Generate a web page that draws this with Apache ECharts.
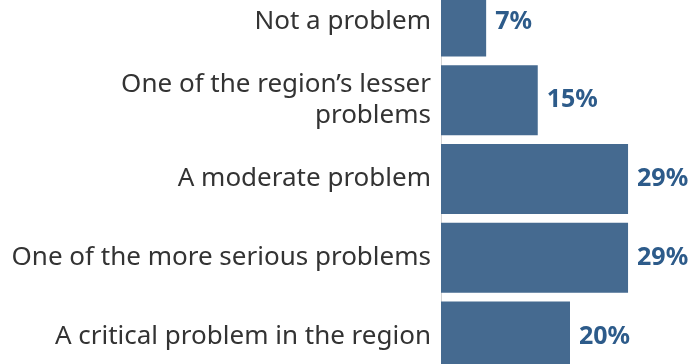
<!DOCTYPE html>
<html>
<head>
<meta charset="utf-8">
<script src="https://cdn.jsdelivr.net/npm/echarts@6/dist/echarts.min.js"></script>
<style>
  html, body { margin: 0; padding: 0; background: #ffffff; overflow: hidden; }
  /* the plot runs past the top and bottom edges of the page */
  #chart { width: 691px; height: 394px; margin-top: -18px; }
</style>
</head>
<body>
<div id="chart"></div>
<script>
// Survey answers, top to bottom
const categories = [
  'Not a problem',
  'One of the region\u2019s lesser\nproblems',
  'A moderate problem',
  'One of the more serious problems',
  'A critical problem in the region'
];
// Share of respondents (%)
const shares = [7, 15, 29, 29, 20];

const FONT = '"Noto Sans", sans-serif';
const chart = echarts.init(document.getElementById('chart'), null, { renderer: 'canvas' });

chart.setOption({
  animation: false,
  grid: { left: 441, right: 0, top: 0, bottom: 0, containLabel: false },
  xAxis: {
    type: 'value',
    min: 0,
    max: 38.76,
    show: false
  },
  yAxis: {
    type: 'category',
    data: categories,
    inverse: true,
    axisLine: { show: true, lineStyle: { color: '#d4d4d4', width: 1 } },
    axisTick: { show: false },
    splitLine: { show: false },
    axisLabel: {
      margin: 10,
      fontFamily: FONT,
      fontSize: 26,
      lineHeight: 31,
      color: '#333333',
      align: 'right'
    }
  },
  series: [{
    type: 'bar',
    data: shares,
    barWidth: 70,
    itemStyle: { color: '#456a90' },
    label: {
      show: true,
      position: 'right',
      distance: 9,
      formatter: '{c}%',
      fontFamily: FONT,
      fontWeight: 'bold',
      fontSize: 25,
      color: '#2d5b8a'
    }
  }]
});
</script>
</body>
</html>
